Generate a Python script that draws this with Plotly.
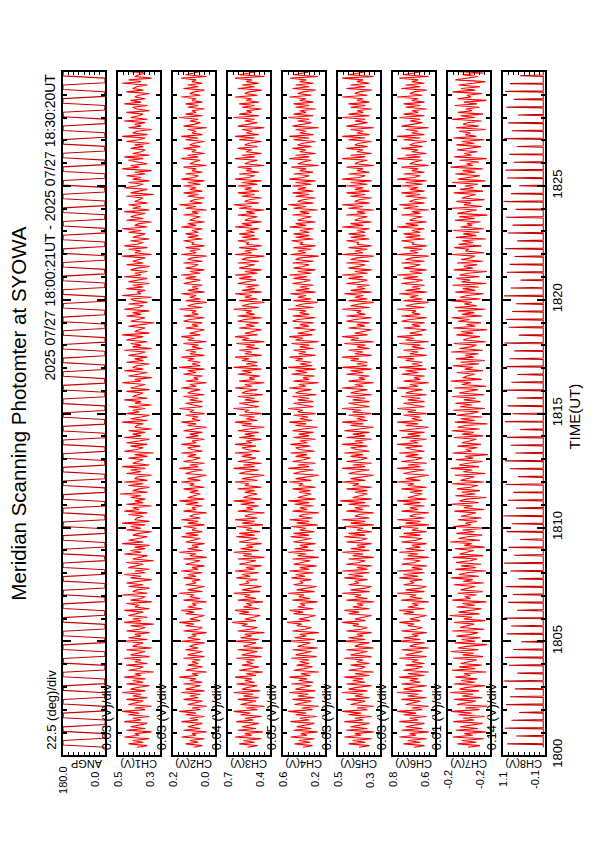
import numpy as np
import plotly.graph_objects as go

W, H = 595, 842

# ---------------- data ----------------
CHANNELS = ["ANGP", "CH1(V)", "CH2(V)", "CH3(V)", "CH4(V)", "CH5(V)", "CH6(V)", "CH7(V)", "CH8(V)"]
X_MAX = [180.0, 0.5, 0.2, 0.7, 0.6, 0.5, 0.8, -0.16, 1.1]
X_MIN = [0.0, 0.3, 0.0, 0.4, 0.2, 0.3, 0.6, -0.24, -0.1]
MAX_LABELS = ["180.0", "0.5", "0.2", "0.7", "0.6", "0.5", "0.8", "-0.2", "1.1"]
MIN_LABELS = ["0.0", "0.3", "0.0", "0.4", "0.2", "0.3", "0.6", "-0.2", "-0.1"]
DIV_LABELS = ["22.5 (deg)/div", "0.03 (V)/div", "0.03 (V)/div", "0.04 (V)/div", "0.05 (V)/div",
              "0.03 (V)/div", "0.03 (V)/div", "0.01 (V)/div", "0.14 (V)/div"]
TIME_TICKS = [0, 5, 10, 15, 20, 25]          # minutes after 18:00 UT
TIME_LABELS = ["1800", "1805", "1810", "1815", "1820", "1825"]
T_START, T_END = 0.35, 30.33                 # 18:00:21 .. 18:30:20 UT (minutes)

# scan angle (deg)
ANGP = [0, 180, 180, 180, 0, 0, 1, 179, 180, 180, 0, 0, 0, 180, 178, 180, 2, 0, 0, 180, 180, 179, 0, 1, 0, 178, 180, 180, 0, 0,
        2, 180, 180, 180, 1, 0, 0, 179, 180, 178, 0, 0, 0, 180, 180, 180, 0, 2, 1, 180, 179, 180, 0, 0, 0, 180, 180, 180, 2, 0,
        0, 180, 179, 180, 0, 0, 1, 180, 180, 178, 0, 0, 0, 178, 180, 180, 1, 0, 0, 180, 180, 180, 0, 2, 2, 180, 179, 180, 0, 0,
        0, 179, 180, 180, 0, 1, 0, 180, 180, 178, 0, 0, 1, 180, 180, 180, 2, 0, 0, 180, 178, 180, 0, 0, 0, 180, 180, 179, 1, 0,
        0, 180, 180, 180, 0, 0, 2, 179, 180, 180, 0, 1, 0, 180, 179, 180, 0, 0, 0, 178, 180, 180, 2, 0, 1, 180, 180, 178, 0, 0,
        0, 180, 180, 180, 1, 0, 0, 180, 178, 180, 0, 2, 0, 179, 180, 180, 0, 0, 2, 180, 180, 179, 0, 0, 0, 180, 180, 180, 0, 1,
        0, 178, 180, 180, 0, 0, 1, 180, 179, 180, 2, 0, 0, 180, 180, 178, 0, 0, 0, 180, 180, 180, 1, 0, 0, 179, 180, 180, 0, 2,
        2, 180, 180, 180, 0, 0, 0, 180, 178, 180, 0, 1, 0, 180, 180, 179, 0, 0, 1, 178, 180, 180, 2, 0, 0, 180, 180, 180, 0, 0,
        0, 180, 179, 180, 0, 1, 2, 180, 180, 178, 0, 0, 0, 179, 180, 180, 1, 0, 0, 180, 180, 180, 0, 2, 0, 180, 178, 180, 0, 0,
        1, 180, 180, 179, 0, 0, 0, 178, 180, 180, 2, 0, 0, 180, 180, 180, 0, 1, 2, 180, 179, 180, 0, 0, 0, 180, 180, 178, 1, 0,
        0]

# channel outputs in centivolts (CH1-CH6) and millivolts (CH7, CH8)
CH1_CV = [41, 36, 45, 38, 43, 35, 47, 40, 42, 34, 46, 37, 44, 40, 36, 47, 39, 43, 35, 45, 40, 48, 37, 42, 34,
          45, 41, 38, 46, 36, 43, 39, 48, 37, 44, 41, 35, 46, 38, 43, 37, 47, 39, 42, 33, 45, 40, 38, 46, 36,
          42, 39, 47, 35, 44, 40, 37, 46, 34, 43, 41, 38, 48, 36, 45, 39, 42, 35, 46, 40, 37, 44, 33, 47, 39,
          43, 36, 45, 41, 38, 47, 35, 42, 40, 46, 34, 44, 39, 37, 48, 36, 43, 41, 35, 45, 38, 46, 40, 34, 44,
          39, 47, 37, 42, 35, 45, 41, 38, 46, 33, 43, 40, 36, 47, 39, 44, 37, 42, 35, 48, 38, 45, 41, 36, 43,
          40, 34, 46, 39, 44, 37, 48, 35, 42, 41, 38, 45, 36, 47, 40, 43, 34, 46, 38, 42, 37, 44, 39, 49, 36,
          43, 40, 35, 45, 38, 47, 36, 42, 41, 34, 46, 39, 44, 37, 48, 35, 43, 40, 38, 45, 36, 42, 33, 47, 41,
          38, 44, 36, 46, 40, 35, 47, 39, 43, 37, 45, 34, 42, 41, 38, 48, 36, 44, 39, 35, 46, 40, 43, 37, 45,
          34, 42, 39, 47, 36, 43, 40, 38, 46, 35, 44, 41, 37, 48, 39, 42, 34, 45, 40, 36, 47, 38, 43, 41, 35,
          46, 38, 42, 36, 45, 40, 37, 47, 34, 43, 39, 44, 36, 46, 41, 38, 48, 35, 42, 40, 37, 45, 39, 33, 44,
          41, 37, 46, 39, 43, 35, 47, 40, 38, 45, 36, 42, 44, 34, 48, 39, 41, 37, 46, 38, 43, 35, 45, 40, 36,
          47, 39, 42, 36, 44, 41, 35, 46, 38, 43, 40, 37, 48, 34, 42, 39, 45, 36, 47, 41, 38, 44, 35, 43, 40,
          37, 45, 39, 48, 36, 42, 40, 34, 46, 38, 44, 41, 37, 47, 35, 43, 39, 45, 36, 42, 40, 38, 46, 33, 44,
          40, 36, 47, 41, 38, 45, 35, 43, 39, 46, 37, 42, 34, 48, 40, 44, 36, 41, 45, 38, 47, 35, 43, 39, 37,
          44, 38, 42, 35, 46, 40, 37, 48, 36, 43, 41, 34, 45, 39, 42, 37, 47, 36, 44, 40, 38, 46, 35, 41, 43,
          36, 47, 39, 44, 37, 42, 40, 35, 46, 38, 43, 41, 36, 48, 39, 45, 34, 42, 40, 37, 46, 38, 44, 36, 41]

CH2_CV = [10, 6, 14, 8, 12, 5, 16, 9, 11, 4, 15, 7, 13, 10, 6, 16, 8, 12, 5, 14, 9, 17, 7, 11, 4,
          13, 9, 6, 15, 8, 12, 7, 16, 5, 14, 10, 7, 15, 6, 12, 9, 17, 8, 11, 4, 14, 10, 6, 13, 8,
          11, 7, 15, 5, 13, 9, 6, 14, 8, 12, 10, 5, 16, 7, 13, 9, 11, 4, 15, 8, 6, 14, 10, 17, 7,
          12, 8, 5, 14, 10, 16, 6, 13, 9, 11, 4, 15, 7, 12, 10, 17, 6, 13, 8, 5, 14, 9, 11, 7, 15,
          9, 13, 6, 16, 8, 11, 5, 14, 10, 7, 15, 4, 12, 9, 17, 6, 13, 8, 11, 5, 14, 10, 7, 16, 8,
          14, 6, 11, 9, 15, 5, 13, 8, 16, 7, 12, 10, 4, 15, 9, 11, 6, 14, 8, 17, 5, 13, 10, 7, 12,
          8, 15, 5, 12, 10, 16, 7, 13, 9, 4, 14, 11, 6, 17, 8, 12, 5, 15, 10, 7, 13, 9, 16, 6, 11,
          13, 7, 16, 9, 11, 5, 14, 8, 12, 6, 15, 10, 4, 13, 9, 16, 7, 11, 8, 14, 5, 12, 10, 17, 6,
          10, 14, 6, 12, 8, 15, 5, 13, 11, 7, 16, 9, 12, 4, 14, 8, 10, 6, 15, 9, 13, 5, 17, 7, 11,
          7, 13, 10, 16, 5, 12, 9, 14, 6, 11, 8, 15, 4, 13, 10, 16, 7, 12, 9, 5, 14, 8, 11, 6, 15,
          12, 5, 15, 8, 11, 9, 17, 6, 13, 10, 4, 14, 7, 12, 9, 16, 5, 13, 8, 11, 6, 15, 10, 7, 14,
          9, 16, 7, 12, 5, 14, 10, 8, 15, 6, 13, 11, 4, 16, 9, 12, 7, 14, 5, 11, 10, 15, 6, 13, 8,
          14, 8, 11, 6, 16, 9, 13, 5, 12, 10, 7, 15, 8, 11, 4, 14, 9, 17, 6, 12, 10, 5, 13, 8, 15,
          6, 12, 9, 15, 7, 13, 5, 16, 10, 8, 14, 6, 11, 9, 15, 4, 12, 10, 7, 16, 8, 13, 5, 11, 9,
          15, 7, 12, 10, 5, 14, 8, 16, 6, 11, 9, 13, 4, 15, 10, 7, 12, 8, 17, 6, 14, 9, 11, 5, 13,
          8, 14, 6, 11, 9, 16, 7, 12, 10, 5, 15, 8, 13, 6, 11, 9, 16, 4, 14, 10, 7, 12, 8, 15, 6]

CH3_CV = [56, 49, 62, 51, 59, 46, 65, 53, 58, 45, 63, 50, 60, 55, 48, 64, 52, 58, 46, 61, 54, 66, 49, 57, 44,
          61, 55, 50, 63, 48, 59, 52, 66, 47, 60, 56, 49, 64, 51, 58, 53, 65, 50, 57, 45, 62, 54, 48, 60, 52,
          57, 51, 64, 46, 60, 54, 49, 63, 45, 59, 55, 50, 66, 48, 61, 53, 58, 44, 63, 54, 49, 60, 56, 67, 50,
          58, 52, 47, 62, 55, 65, 48, 59, 53, 57, 45, 63, 50, 58, 54, 66, 47, 60, 52, 46, 62, 55, 57, 49, 64,
          54, 60, 48, 65, 51, 57, 46, 62, 55, 50, 63, 44, 59, 53, 66, 48, 61, 52, 57, 46, 62, 55, 49, 64, 51,
          62, 47, 57, 53, 64, 45, 60, 51, 65, 49, 58, 55, 44, 63, 52, 57, 48, 61, 51, 66, 46, 59, 55, 49, 58,
          51, 63, 46, 58, 55, 65, 49, 60, 53, 44, 62, 57, 48, 66, 51, 59, 46, 63, 55, 50, 60, 53, 65, 47, 57,
          60, 50, 65, 53, 57, 46, 62, 51, 58, 48, 63, 55, 44, 60, 53, 65, 49, 57, 51, 62, 46, 58, 55, 66, 48,
          55, 62, 48, 58, 51, 63, 45, 60, 57, 49, 65, 53, 58, 44, 62, 51, 55, 47, 63, 53, 60, 46, 66, 49, 57,
          49, 60, 55, 65, 46, 58, 53, 62, 48, 57, 51, 64, 44, 60, 55, 65, 49, 58, 53, 46, 62, 51, 57, 48, 63,
          58, 46, 63, 51, 57, 53, 66, 48, 60, 55, 44, 62, 49, 58, 53, 65, 46, 60, 51, 57, 48, 63, 55, 50, 62,
          53, 65, 49, 58, 46, 62, 55, 51, 63, 48, 60, 57, 44, 65, 53, 58, 49, 62, 46, 57, 55, 63, 48, 60, 51,
          62, 51, 57, 48, 65, 53, 60, 46, 58, 55, 49, 63, 51, 57, 44, 62, 53, 66, 48, 58, 55, 46, 60, 51, 63,
          48, 58, 53, 63, 49, 60, 46, 65, 55, 51, 62, 48, 57, 53, 63, 44, 58, 55, 49, 65, 51, 60, 46, 57, 53,
          63, 49, 58, 55, 46, 62, 51, 65, 48, 57, 53, 60, 44, 63, 55, 49, 58, 51, 66, 48, 62, 53, 57, 46, 60,
          51, 62, 48, 57, 53, 65, 49, 58, 55, 46, 63, 51, 60, 48, 57, 53, 65, 44, 62, 55, 49, 58, 51, 63, 48]

CH4_CV = [41, 32, 49, 34, 45, 30, 53, 37, 43, 27, 50, 33, 47, 39, 30, 53, 35, 44, 28, 48, 38, 55, 32, 42, 26,
          49, 40, 33, 51, 30, 46, 36, 54, 29, 48, 42, 33, 52, 31, 45, 37, 54, 34, 43, 26, 50, 40, 32, 47, 35,
          44, 35, 52, 28, 48, 40, 33, 51, 27, 46, 41, 34, 55, 30, 49, 38, 44, 26, 51, 39, 33, 47, 42, 56, 34,
          45, 36, 29, 50, 41, 54, 31, 46, 39, 44, 27, 51, 34, 45, 40, 55, 30, 47, 37, 28, 50, 41, 44, 33, 52,
          39, 48, 31, 54, 35, 44, 28, 50, 41, 34, 51, 26, 46, 38, 55, 31, 49, 36, 44, 29, 50, 40, 33, 53, 35,
          50, 30, 44, 38, 52, 27, 47, 35, 54, 32, 45, 41, 26, 51, 37, 44, 31, 49, 35, 55, 29, 46, 40, 33, 45,
          34, 51, 29, 45, 41, 54, 33, 48, 38, 26, 50, 43, 31, 55, 35, 46, 29, 51, 40, 34, 48, 37, 53, 30, 44,
          48, 34, 53, 37, 44, 29, 50, 35, 45, 31, 51, 41, 27, 48, 38, 54, 32, 44, 36, 50, 29, 46, 41, 55, 31,
          41, 50, 31, 46, 35, 51, 28, 48, 44, 33, 54, 38, 45, 26, 50, 35, 41, 30, 52, 37, 48, 29, 55, 32, 44,
          33, 48, 41, 54, 29, 45, 38, 50, 31, 44, 35, 52, 26, 48, 41, 54, 32, 46, 38, 29, 50, 35, 44, 31, 51,
          46, 29, 51, 35, 44, 38, 55, 31, 48, 41, 27, 50, 33, 46, 38, 53, 29, 48, 35, 44, 31, 51, 40, 34, 50,
          37, 54, 33, 46, 29, 50, 41, 35, 51, 31, 48, 44, 26, 53, 38, 46, 33, 50, 29, 44, 41, 52, 31, 48, 35,
          50, 35, 44, 31, 54, 38, 48, 29, 46, 41, 33, 51, 35, 44, 27, 50, 38, 55, 31, 46, 41, 29, 48, 35, 51,
          31, 46, 38, 51, 33, 48, 29, 54, 41, 35, 50, 31, 44, 38, 52, 26, 46, 41, 33, 54, 35, 48, 29, 44, 38,
          51, 33, 46, 41, 29, 50, 35, 54, 31, 44, 38, 48, 26, 51, 41, 33, 46, 35, 55, 31, 50, 38, 44, 29, 48,
          35, 50, 31, 44, 38, 54, 33, 46, 41, 29, 51, 35, 48, 31, 44, 38, 53, 27, 50, 41, 33, 46, 35, 52, 31]

CH5_CV = [40, 35, 45, 37, 43, 34, 47, 39, 42, 33, 46, 36, 44, 40, 35, 47, 38, 42, 34, 45, 39, 48, 36, 41, 33,
          44, 40, 37, 46, 35, 42, 38, 48, 36, 45, 41, 34, 46, 37, 43, 38, 47, 35, 42, 33, 45, 39, 37, 44, 35,
          41, 38, 47, 34, 44, 39, 36, 46, 33, 42, 40, 35, 48, 37, 45, 38, 41, 34, 46, 39, 36, 43, 40, 48, 37,
          42, 37, 34, 45, 40, 47, 35, 43, 38, 41, 33, 46, 36, 42, 39, 48, 35, 44, 37, 34, 45, 40, 42, 36, 47,
          38, 45, 35, 48, 36, 41, 34, 46, 40, 37, 45, 33, 43, 38, 48, 35, 44, 37, 41, 34, 46, 39, 36, 47, 37,
          45, 34, 41, 38, 47, 33, 44, 37, 48, 35, 42, 40, 33, 46, 38, 42, 35, 45, 37, 49, 34, 43, 39, 36, 42,
          36, 46, 34, 43, 40, 48, 37, 44, 38, 33, 45, 41, 35, 48, 37, 43, 34, 46, 39, 36, 44, 38, 47, 35, 41,
          44, 36, 48, 38, 42, 34, 46, 37, 43, 35, 47, 40, 33, 44, 38, 48, 36, 41, 37, 45, 34, 43, 39, 48, 35,
          40, 45, 35, 43, 37, 46, 34, 44, 41, 36, 48, 38, 42, 33, 45, 37, 40, 35, 46, 38, 44, 34, 48, 36, 41,
          36, 44, 40, 48, 34, 42, 38, 45, 35, 41, 37, 47, 33, 44, 40, 48, 36, 42, 38, 34, 45, 37, 41, 35, 46,
          42, 34, 46, 37, 41, 39, 48, 35, 44, 40, 33, 45, 36, 42, 38, 47, 34, 44, 37, 41, 35, 46, 39, 36, 45,
          38, 48, 36, 42, 34, 45, 40, 37, 46, 35, 44, 41, 33, 48, 38, 42, 36, 45, 34, 41, 40, 46, 35, 44, 37,
          45, 37, 41, 35, 48, 38, 44, 34, 42, 40, 36, 46, 37, 41, 33, 45, 38, 48, 35, 42, 40, 34, 44, 37, 46,
          35, 42, 38, 46, 36, 44, 34, 48, 40, 37, 45, 35, 41, 38, 46, 33, 42, 40, 36, 48, 37, 44, 34, 41, 38,
          46, 36, 42, 40, 34, 45, 37, 48, 35, 41, 38, 44, 33, 46, 40, 36, 42, 37, 48, 35, 45, 38, 41, 34, 44,
          37, 45, 35, 41, 38, 48, 36, 42, 40, 34, 46, 37, 44, 35, 41, 38, 48, 33, 45, 40, 36, 42, 37, 46, 35]

CH6_CV = [70, 65, 75, 67, 73, 64, 77, 69, 72, 63, 76, 66, 74, 70, 65, 77, 68, 72, 64, 75, 69, 78, 66, 71, 63,
          74, 70, 67, 76, 64, 73, 68, 78, 66, 75, 71, 64, 76, 67, 72, 68, 77, 65, 73, 63, 75, 69, 66, 74, 65,
          71, 68, 77, 64, 74, 69, 66, 76, 63, 72, 70, 65, 78, 67, 75, 68, 71, 64, 76, 69, 66, 73, 70, 77, 67,
          72, 67, 64, 75, 70, 77, 65, 73, 68, 71, 63, 76, 66, 72, 69, 78, 65, 74, 67, 64, 75, 70, 72, 66, 77,
          68, 75, 65, 78, 66, 71, 64, 76, 70, 67, 75, 63, 73, 68, 77, 65, 74, 67, 71, 64, 76, 69, 66, 77, 67,
          75, 64, 71, 68, 77, 63, 74, 67, 78, 65, 72, 70, 63, 76, 68, 72, 65, 75, 67, 78, 64, 73, 69, 66, 72,
          66, 76, 64, 73, 70, 78, 67, 74, 68, 63, 75, 71, 65, 78, 67, 73, 64, 76, 69, 66, 74, 68, 77, 65, 71,
          74, 66, 78, 68, 72, 64, 76, 67, 73, 65, 77, 70, 63, 74, 68, 78, 66, 71, 67, 75, 64, 73, 69, 78, 65,
          70, 75, 65, 73, 67, 76, 64, 74, 71, 66, 78, 68, 72, 63, 75, 67, 70, 65, 76, 68, 74, 64, 77, 66, 71,
          66, 74, 70, 78, 64, 72, 68, 75, 65, 71, 67, 77, 63, 74, 70, 78, 66, 72, 68, 64, 75, 67, 71, 65, 76,
          72, 64, 76, 67, 71, 69, 78, 65, 74, 70, 63, 75, 66, 72, 68, 77, 64, 74, 67, 71, 65, 76, 69, 66, 75,
          68, 78, 66, 72, 64, 75, 70, 67, 76, 65, 74, 71, 63, 78, 68, 72, 66, 75, 64, 71, 70, 76, 65, 74, 67,
          75, 67, 71, 65, 78, 68, 74, 64, 72, 70, 66, 76, 67, 71, 63, 75, 68, 77, 65, 72, 70, 64, 74, 67, 76,
          65, 72, 68, 76, 66, 74, 64, 78, 70, 67, 75, 65, 71, 68, 76, 63, 72, 70, 66, 78, 67, 74, 64, 71, 68,
          76, 66, 72, 70, 64, 75, 67, 78, 65, 71, 68, 74, 63, 76, 70, 66, 72, 67, 77, 65, 75, 68, 71, 64, 74,
          67, 75, 65, 71, 68, 78, 66, 72, 70, 64, 76, 67, 74, 65, 71, 68, 77, 63, 75, 70, 66, 72, 67, 76, 65]

CH7_MV = [-198, -221, -178, -214, -186, -228, -169, -207, -191, -232, -175, -217, -183, -202, -226, -170, -210, -189, -230, -180, -205, -166, -220, -193, -235,
          -177, -199, -213, -172, -225, -187, -208, -164, -219, -182, -196, -231, -171, -211, -185, -216, -174, -203, -190, -233, -167, -212, -181, -224, -184,
          -200, -215, -170, -227, -188, -209, -165, -218, -179, -195, -234, -173, -212, -186, -222, -176, -204, -217, -168, -229, -183, -197, -210, -172, -231,
          -190, -206, -163, -220, -180, -201, -224, -176, -211, -187, -233, -168, -203, -192, -214, -178, -226, -184, -199, -212, -171, -228, -189, -207, -166,
          -219, -181, -196, -232, -174, -213, -185, -223, -175, -202, -216, -169, -227, -182, -198, -209, -173, -230, -191, -205, -164, -221, -180, -197, -225,
          -176, -210, -188, -234, -170, -204, -193, -215, -179, -224, -185, -200, -213, -172, -229, -190, -207, -166, -218, -182, -195, -233, -174, -212, -186,
          -221, -177, -203, -217, -168, -228, -184, -198, -210, -173, -231, -189, -206, -165, -219, -181, -197, -226, -175, -208, -192, -236, -169, -205, -194,
          -216, -178, -223, -186, -201, -214, -171, -227, -187, -209, -167, -220, -178, -194, -235, -173, -211, -184, -225, -176, -202, -218, -170, -230, -183,
          -206, -174, -222, -190, -213, -168, -229, -181, -200, -217, -172, -233, -186, -204, -165, -224, -188, -196, -211, -177, -227, -192, -207, -169, -219,
          -184, -230, -175, -209, -193, -218, -166, -226, -182, -203, -214, -171, -232, -189, -199, -221, -176, -208, -185, -235, -170, -212, -195, -223, -179,
          -201, -167, -225, -187, -210, -179, -231, -173, -215, -191, -205, -164, -222, -183, -197, -228, -174, -212, -188, -218, -169, -233, -186, -202, -176,
          -220, -182, -198, -234, -171, -207, -190, -216, -177, -226, -185, -203, -211, -168, -229, -193, -200, -172, -224, -180, -208, -187, -232, -175, -214,
          -189, -219, -170, -228, -184, -206, -196, -222, -173, -211, -181, -235, -178, -200, -215, -166, -225, -190, -204, -176, -230, -186, -198, -213, -171,
          -227, -183, -209, -192, -217, -168, -231, -179, -202, -221, -174, -212, -188, -226, -165, -207, -195, -219, -182, -234, -172, -205, -191, -216, -177,
          -199, -223, -176, -210, -186, -229, -170, -214, -193, -203, -181, -232, -175, -218, -189, -197, -224, -167, -211, -184, -227, -179, -206, -194, -220,
          -173, -215, -190, -233, -178, -204, -196, -225, -169, -212, -185, -221, -180, -208, -231, -174, -200, -217, -187, -228, -171, -209, -192, -223, -182]

CH8_BASE_MV = -50
CH8_PEAKS_MV = [980, 720, 1050, 860, 640, 1010, 900, 760, 1080, 690, 930, 1040, 810, 580, 990, 870, 1060, 700, 950, 820,
                1030, 660, 890, 1070, 780, 940, 610, 1000, 850, 1090, 730, 960, 800, 1020, 670, 910, 1050, 750, 880, 990,
                620, 1040, 830, 970, 710, 1080, 860, 690, 1000, 920, 780, 1060, 650, 940, 1010, 840, 730, 1070, 880, 600,
                990, 910, 770, 1050, 690, 960, 830, 1020, 740, 1090, 870, 640, 980, 1030, 800, 920, 710, 1060, 850, 950,
                680, 1010, 790, 1040, 900, 620, 970]

# ---------------- geometry (pixels) ----------------
P_LEFT0, P_PITCH, P_W = 59, 55, 42
P_TOP, P_BOT = 66, 760
OFF_X, OFF_Y = 4, 1     # global placement correction
ROT_SHIFT = -5          # visual correction for -90 deg rotated annotations
FONT = "Liberation Sans, Arial, sans-serif"


def px(x):
    return (x - OFF_X) / W


def py(y):
    return 1 - (y - OFF_Y) / H


series = []
series.append((np.linspace(T_START, T_END, len(ANGP)), np.array(ANGP, float)))
for arr in [CH1_CV, CH2_CV, CH3_CV, CH4_CV, CH5_CV, CH6_CV]:
    series.append((np.linspace(T_START, T_END, len(arr)), np.array(arr, float) / 100.0))
series.append((np.linspace(T_START, T_END, len(CH7_MV)), np.array(CH7_MV, float) / 1000.0))
# CH8: baseline with short spikes
tk = np.linspace(T_START + 0.15, T_END - 0.15, len(CH8_PEAKS_MV))
t8, v8 = [T_START], [CH8_BASE_MV / 1000.0]
for t, p in zip(tk, CH8_PEAKS_MV):
    t8 += [t - 0.03, t, t + 0.03]
    v8 += [CH8_BASE_MV / 1000.0, p / 1000.0, CH8_BASE_MV / 1000.0]
t8.append(T_END)
v8.append(CH8_BASE_MV / 1000.0)
series.append((np.array(t8), np.array(v8)))

fig = go.Figure()
annotations = []
layout = dict(width=W, height=H, margin=dict(l=0, r=0, t=0, b=0), autosize=False,
              paper_bgcolor="white", plot_bgcolor="white", showlegend=False,
              font=dict(family=FONT, color="black"))


def note(x, y, text, size, yanchor, angle=-90):
    return dict(x=px(x + (ROT_SHIFT if angle == -90 else 0)), y=py(y), xref="paper", yref="paper",
                text=text, textangle=angle, showarrow=False, xanchor="center",
                yanchor=yanchor, font=dict(size=size))


for i, (t, v) in enumerate(series):
    n = "" if i == 0 else str(i + 1)
    left = P_LEFT0 + i * P_PITCH
    right = left + P_W
    color = "#c80000" if i in (0, 8) else "#ff0000"
    fig.add_trace(go.Scatter(x=v, y=t, mode="lines", line=dict(color=color, width=1.1),
                             xaxis="x" + n, yaxis="y" + n, hoverinfo="skip"))
    span = X_MAX[i] - X_MIN[i]
    layout["xaxis" + n] = dict(domain=[px(left), px(right)], range=[X_MAX[i], X_MIN[i]],
                               anchor="y" + n, showgrid=False, zeroline=False,
                               showline=True, linecolor="black", linewidth=2, mirror="ticks",
                               ticks="inside", ticklen=3, tickwidth=1, tickcolor="black",
                               tick0=X_MIN[i], dtick=span / 8, showticklabels=False)
    last = (i == len(series) - 1)
    layout["yaxis" + n] = dict(domain=[py(P_BOT), py(P_TOP)], range=[0, 30],
                               anchor="x" + n, showgrid=False, zeroline=False,
                               showline=True, linecolor="black", linewidth=2, mirror="ticks",
                               ticks="inside", ticklen=8, tickwidth=2, tickcolor="black",
                               tickvals=TIME_TICKS, ticktext=TIME_LABELS,
                               minor=dict(dtick=1, tick0=0, ticks="inside", ticklen=4,
                                          tickwidth=1.5, tickcolor="black"),
                               showticklabels=last, side="right" if last else "left",
                               ticklabelstandoff=-1,
                               tickangle=-90, tickfont=dict(size=13, family=FONT))
    name_x = left + 24 if i == 0 else (left + right) / 2
    annotations.append(note(left - 6.5, 757, DIV_LABELS[i], 13, "bottom"))
    annotations.append(note(name_x, 760, CHANNELS[i], 11, "top", angle=180))
    annotations.append(note(left + 5, 785, MAX_LABELS[i], 11, "middle"))
    annotations.append(note(right - 5, 785, MIN_LABELS[i], 11, "middle"))

annotations.append(note(20, 413, "Meridian Scanning Photomter at SYOWA", 20.5, "middle"))
annotations.append(note(51, 66, "2025 07/27 18:00:21UT - 2025 07/27 18:30:20UT", 14, "top"))
annotations.append(note(576, 416, "TIME(UT)", 15, "middle"))

layout["annotations"] = annotations
fig.update_layout(**layout)
fig.write_html("out.html")
